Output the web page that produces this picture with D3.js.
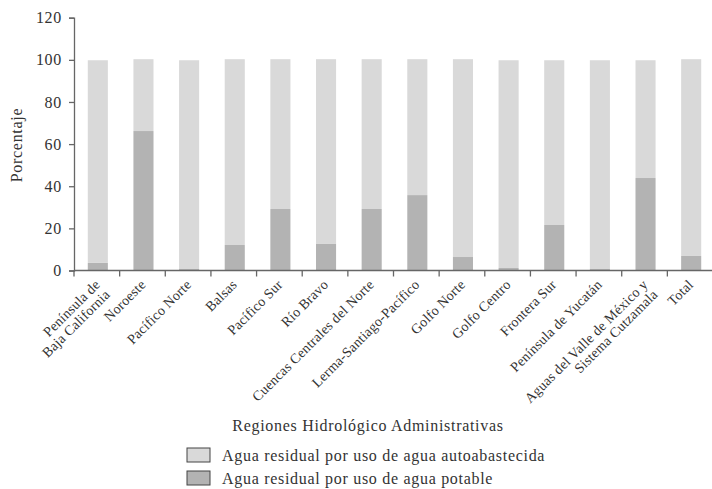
<!DOCTYPE html>
<html>
<head>
<meta charset="utf-8">
<script src="https://cdn.jsdelivr.net/npm/d3@7"></script>
<style>
  html, body { margin: 0; padding: 0; background: #fff; }
  svg { display: block; }
  text { font-family: "Liberation Serif", "Times New Roman", serif; fill: #333; letter-spacing: 0.7px; }
</style>
</head>
<body>
<svg id="chart" width="712" height="489"></svg>
<script>
// Regiones hidrológico-administrativas (multi-line labels split on "\n")
const categories = [
  "Península de\nBaja California", "Noroeste", "Pacífico Norte", "Balsas",
  "Pacífico Sur", "Río Bravo", "Cuencas Centrales del Norte",
  "Lerma-Santiago-Pacífico", "Golfo Norte", "Golfo Centro", "Frontera Sur",
  "Península de Yucatán", "Aguas del Valle de México y\nSistema Cutzamala", "Total"
];
// Porcentaje: agua residual por uso de agua potable
const potable = [3.6, 66.2, 0.7, 12.1, 29.2, 12.6, 29.2, 35.8, 6.4, 1.2, 21.6, 0.7, 43.9, 6.9];
// Porcentaje: agua residual por uso de agua autoabastecida
const autoabastecida = [96.2, 34.1, 99.1, 88.2, 71.1, 87.7, 71.1, 64.5, 93.9, 98.6, 78.2, 99.1, 55.9, 93.4];
const yTicks = [0, 20, 40, 60, 80, 100, 120];
const seriesNames = ["Agua residual por uso de agua autoabastecida", "Agua residual por uso de agua potable"];
const seriesColors = ["#d9d9d9", "#b3b3b3"];

const svg = d3.select("#chart");
const plotLeft = 74, plotRight = 713, plotTop = 17.7, plotBottom = 270.5;

const x = d3.scaleBand().domain(categories).range([plotLeft, plotRight])
  .paddingInner(0.56).paddingOuter(0.28);
const y = d3.scaleLinear().domain([0, 120]).range([plotBottom, plotTop]);

const rows = categories.map((c, i) => ({ cat: c, potable: potable[i], auto: autoabastecida[i] }));
const stack = d3.stack().keys(["potable", "auto"])(rows);
const fills = { potable: seriesColors[1], auto: seriesColors[0] };

// stacked bars
svg.append("g").selectAll("g").data(stack).join("g")
  .attr("fill", d => fills[d.key])
  .selectAll("rect").data(d => d).join("rect")
  .attr("x", d => x(d.data.cat) + 1)
  .attr("width", x.bandwidth())
  .attr("y", d => y(d[1]))
  .attr("height", d => y(d[0]) - y(d[1]));

const axisColor = "#666";

// y axis
const yAxis = svg.append("g").attr("transform", `translate(${plotLeft},0)`)
  .call(d3.axisLeft(y).tickValues(yTicks).tickSize(5).tickPadding(7));
yAxis.select(".domain").attr("stroke", axisColor).attr("stroke-width", 1.3);
yAxis.selectAll(".tick line").attr("stroke", axisColor).attr("stroke-width", 1.3);
yAxis.selectAll(".tick text").attr("font-size", 16).attr("font-family", "Liberation Serif").attr("fill", "#333");

// x axis: line with ticks at band boundaries
const step = x.step();
const boundaries = d3.range(categories.length + 1).map(i => plotLeft + i * step);
svg.append("line").attr("x1", plotLeft).attr("x2", 712).attr("y1", plotBottom).attr("y2", plotBottom)
  .attr("stroke", axisColor).attr("stroke-width", 1.3);
svg.append("g").selectAll("line").data(boundaries).join("line")
  .attr("x1", d => d).attr("x2", d => d).attr("y1", plotBottom).attr("y2", plotBottom + 6)
  .attr("stroke", axisColor).attr("stroke-width", 1.3);

// rotated category labels
const labels = svg.append("g").selectAll("text").data(categories).join("text")
  .attr("transform", d => `translate(${x(d) + x.bandwidth() / 2 + 4},${plotBottom + 15}) rotate(-45)`)
  .attr("text-anchor", "end")
  .attr("font-size", 14)
  .style("letter-spacing", "0.2px");
labels.selectAll("tspan").data(d => d.split("\n")).join("tspan")
  .attr("x", 0).attr("y", (d, i) => i * 14)
  .text(d => d);

// axis titles
svg.append("text").attr("transform", `translate(22,145) rotate(-90)`)
  .attr("text-anchor", "middle").attr("font-size", 16).text("Porcentaje");
svg.append("text").attr("x", 368).attr("y", 431)
  .attr("text-anchor", "middle").attr("font-size", 16).text("Regiones Hidrológico Administrativas");

// legend
const legend = svg.append("g").selectAll("g").data(seriesNames).join("g")
  .attr("transform", (d, i) => `translate(187,${448 + i * 23})`);
legend.append("rect").attr("width", 23).attr("height", 14)
  .attr("fill", (d, i) => seriesColors[i]).attr("stroke", "#444").attr("stroke-width", 1);
legend.append("text").attr("x", 35).attr("y", 12.5).attr("font-size", 16).text(d => d);
</script>
</body>
</html>
